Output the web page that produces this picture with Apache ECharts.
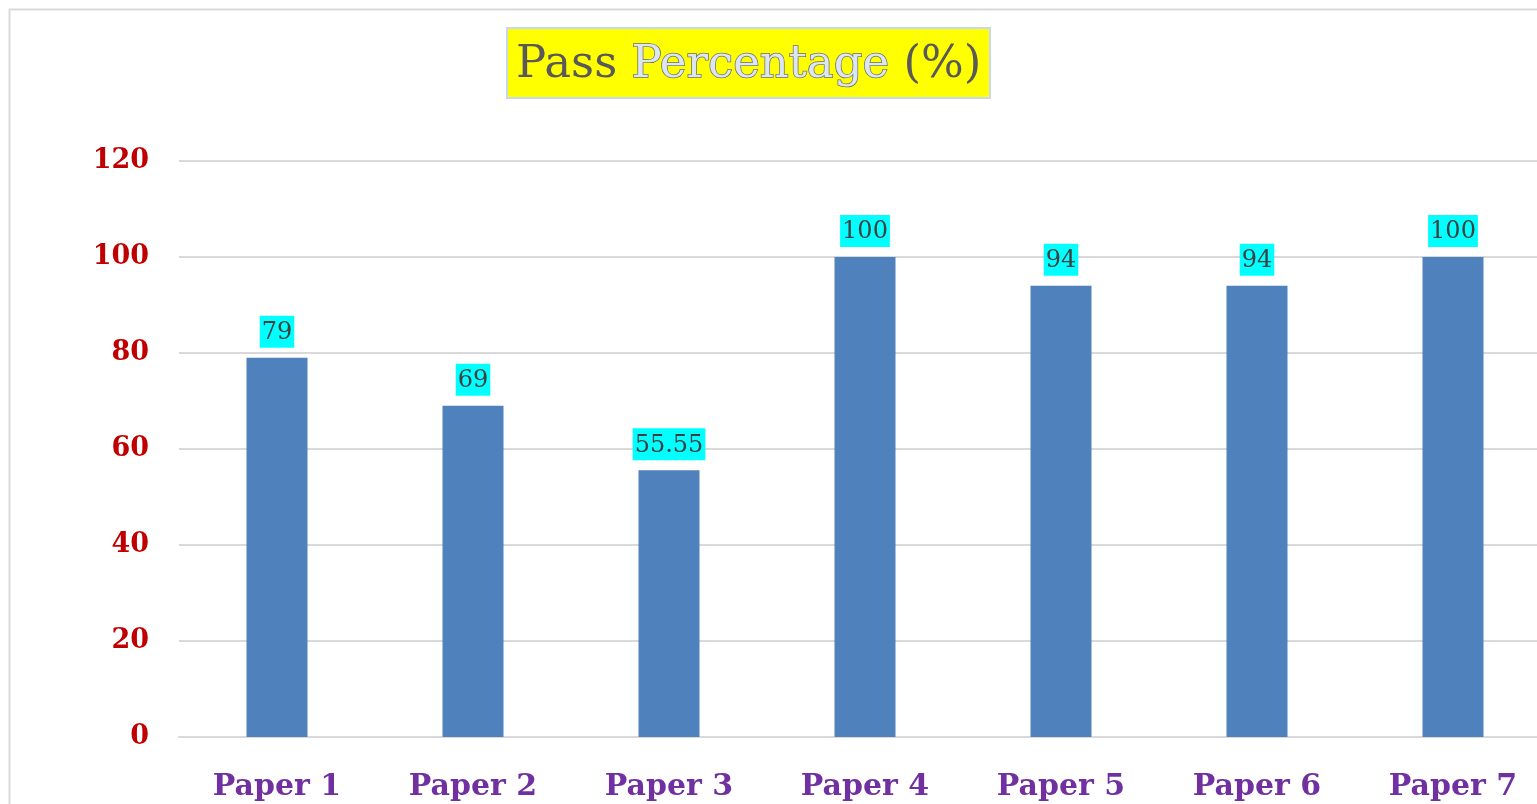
<!DOCTYPE html>
<html><head><meta charset="utf-8">
<script src="https://cdn.jsdelivr.net/npm/echarts@6/dist/echarts.min.js"></script>
<style>html,body{margin:0;padding:0;background:#fff;}#c{width:1537px;height:804px;}</style>
</head><body><div id="c"></div>
<script>
const categories = ['Paper 1','Paper 2','Paper 3','Paper 4','Paper 5','Paper 6','Paper 7'];
const passPercent = [79, 69, 55.55, 100, 94, 94, 100];
const yTicks = {min:0, max:120, interval:20};

const chart = echarts.init(document.getElementById('c'));
const serif = "'DejaVu Serif','Liberation Serif',serif";
chart.setOption({
  animation:false,
  graphic:[{type:'rect', shape:{x:9.5,y:9.5,width:1600,height:900}, style:{fill:'none',stroke:'#d9d9d9',lineWidth:2}, z:-1}],
  title:{
    text:'{a|Pass }{b|Percentage}{a| (%)}',
    left:507, top:28,
    backgroundColor:'#ffff00',
    borderColor:'#c6d9f1', borderWidth:2,
    padding:[15,9,9,9],
    textStyle:{fontWeight:'normal',rich:{
      a:{fontFamily:serif,fontSize:45,fontWeight:'normal',color:'#595959'},
      b:{fontFamily:serif,fontSize:45,fontWeight:'normal',color:'#dce6f2',textBorderColor:'#6d6d6d',textBorderWidth:1.5}
    }}
  },
  grid:{left:179, top:161, width:1372, bottom:67, containLabel:false, outerBoundsMode:'none'},
  xAxis:{type:'category', data:categories,
    axisLine:{lineStyle:{color:'#d9d9d9',width:2}}, axisTick:{show:false},
    axisLabel:{color:'#7030A0',fontWeight:'bold',fontFamily:serif,fontSize:30,margin:35}},
  yAxis:{type:'value', min:yTicks.min, max:yTicks.max, interval:yTicks.interval,
    axisLine:{show:false}, axisTick:{show:false},
    splitLine:{lineStyle:{color:'#d9d9d9',width:2}},
    axisLabel:{color:'#C00000',fontWeight:'bold',fontFamily:serif,fontSize:27,margin:30}},
  series:[{type:'bar', data:passPercent, barWidth:61, itemStyle:{color:'#4f81bd'},
    label:{show:true, position:'top', distance:10, color:'#404040', fontFamily:serif, fontSize:24,
      backgroundColor:'#00ffff', padding:[5,2,3,2]}}]
});
</script></body></html>
